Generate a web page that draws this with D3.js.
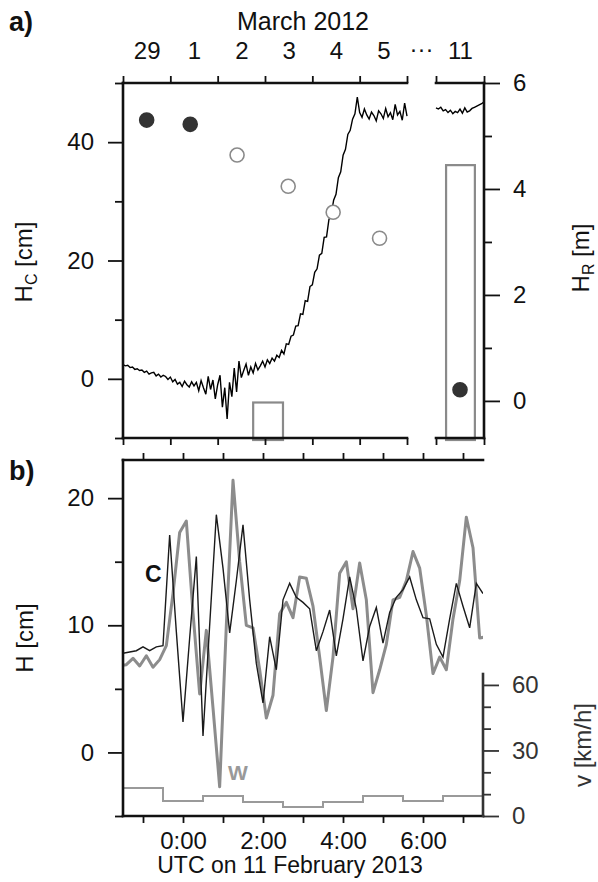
<!DOCTYPE html>
<html><head><meta charset="utf-8">
<script src="https://cdn.jsdelivr.net/npm/d3@7"></script>
<style>body{margin:0;background:#fff}svg{display:block}</style>
</head><body><svg id="c" width="598" height="882"></svg>
<script>
// ---------- Panel a data ----------
// H_C [cm], sampled every 0.05 day from 29 Feb 2012 00:00 to 6 Mar 00:00
const hcStep = 0.05;
const hcValues = [2.4,2.2,2.3,1.9,2.0,1.6,1.7,1.4,1.5,1.1,1.3,0.8,1.0,1.1,0.5,0.8,0.3,0.6,0.4,-0.1,
  0.3,-0.5,-0.1,-0.9,-0.6,-1.3,-0.4,-1.0,-1.4,-0.5,-1.2,-0.6,-2.0,-0.3,-1.5,-2.6,0.4,-1.8,-0.2,-3.4,
  -1.0,0.6,-4.8,-1.5,-6.8,-0.6,-3.0,1.8,-2.2,3.0,0.2,1.4,2.5,0.6,2.0,1.0,2.6,1.5,2.2,3.0,
  2.0,3.2,2.6,3.5,3.0,4.0,3.6,4.8,4.2,5.9,5.8,7.2,7.4,8.9,9.0,11.0,10.9,13.2,13.1,15.6,
  15.9,18.0,18.6,20.9,21.2,23.9,24.0,26.9,27.8,30.2,31.2,34.0,35.0,37.8,38.8,41.3,42.0,43.9,44.8,47.6,
  45.0,44.2,45.6,44.6,43.9,45.1,44.5,43.6,45.3,44.8,44.0,45.7,44.3,45.0,43.8,46.4,44.6,45.2,43.7,46.6,44.4];
// H_C on 11 March, every 0.05 day
const hc11Values = [45.8,45.6,45.9,45.3,45.5,45.0,45.4,44.8,45.2,45.0,45.6,44.9,45.8,45.1,45.3,45.7,45.9,46.1,46.3,46.5,46.8];
// H_R [m] circles
const hrDays   = [0.5, 1.42, 2.41, 3.49, 4.44, 5.42];
const hrValues = [5.3, 5.22, 4.64, 4.05, 3.56, 3.07];
const hrFilled = [true, true, false, false, false, false];
const hr11Days = [0.5];
const hr11Values = [0.21];
// bars (H_R scale)
const barStart = [2.75], barEnd = [3.38], barTop = [-0.03];
const bar11Start = [0.21], bar11End = [0.81], bar11Top = [4.45];
const dayTicks = [0,1,2,3,4,5,6];
const dayLabelPos = [0.5,1.5,2.5,3.5,4.5,5.5];
const dayLabels = ["29","1","2","3","4","5"];

// ---------- Panel b data ----------
// C: every 10 min from 22:30 (-1.5 h); W: every 10 min from 22:25 (-1.583 h)
const cStart = -1.5, wStart = -1.5 - 1/12, hStep = 1/6;
const cValues = [7.8,7.9,8.0,8.3,8.0,8.3,8.4,17.1,9.5,2.4, 9.0,15.4,1.3,10.0,18.7,14.5,9.4,13.5,17.9,12.0,
  7.0,3.9,9.1,6.5,12.0,13.3,12.2,11.8,11.3,8.0, 9.5,11.2,7.6,10.5,13.8,11.3,7.2,9.9,11.4,8.6,
  11.0,12.2,12.8,13.8,12.0,10.6,10.5,8.5,7.5,10.5, 13.3,11.5,9.8,13.3,12.5];
const wValues = [6.8,6.9,7.4,6.8,7.6,6.7,7.3,8.4,12.5,17.3,18.2,11.0,4.6,9.6,3.5,-2.7,10.0,21.4,15.0,10.0,
  9.8,6.5,2.7,4.5,10.9,11.8,10.6,13.8,13.7,11.5,7.5,3.3,7.5,14.1,15.0,11.3,14.9,12.0,4.7,6.5,
  8.5,12.0,12.2,13.5,15.8,14.5,10.8,6.2,7.5,6.5,10.5,13.5,18.5,16.1,9.0,9.1];
const windHours = [-1,0,1,2,3,4,5,6,7];
const windSpeed = [12.8,6.9,9.2,6.4,4.1,6.4,9.2,6.9,9.2];
const hourTicks = [-1,0,1,2,3,4,5,6,7];
const hourLabelTicks = [0,2,4,6];

// ---------- drawing ----------
const FONT = "'Liberation Sans', Arial, Helvetica, sans-serif";
const svg = d3.select("#c").style("font-family", FONT);

const xA1 = d3.scaleLinear().domain([0,6]).range([123,407]);
const xA2 = d3.scaleLinear().domain([0,1]).range([436,484]);
const yC  = d3.scaleLinear().domain([-10,50]).range([438,83]);
const yR  = d3.scaleLinear().domain([-0.7,6]).range([438,83]);

function styleAxis(g, col) {
  g.select(".domain").remove();
  g.selectAll(".tick line").attr("stroke", col || "#111").attr("stroke-width", 1.8);
  g.selectAll(".tick text").attr("fill", col || "#111").style("font-size","24px").style("font-family",FONT);
}

const gA = svg.append("g");
function barsRect(g, xs, starts, ends, tops) {
  g.selectAll(null).data(starts.map((s,i)=>({s, e:ends[i], t:tops[i]}))).join("rect")
    .attr("x", d=>xs(d.s)).attr("width", d=>xs(d.e)-xs(d.s))
    .attr("y", d=>yR(d.t)).attr("height", d=>yR.range()[0]-yR(d.t)+2)
    .attr("fill","none").attr("stroke","#8a8a8a").attr("stroke-width",2.2);
}
barsRect(gA, xA1, barStart, barEnd, barTop);
barsRect(gA, xA2, bar11Start, bar11End, bar11Top);

const lineA1 = d3.line().x((d,i)=>xA1(i*hcStep)).y(d=>yC(d));
const lineA2 = d3.line().x((d,i)=>xA2(i*hcStep)).y(d=>yC(d));
gA.append("path").attr("d", lineA1(hcValues)).attr("fill","none").attr("stroke","#000").attr("stroke-width",1.4);
gA.append("path").attr("d", lineA2(hc11Values)).attr("fill","none").attr("stroke","#000").attr("stroke-width",1.4);

gA.selectAll(null).data(hrDays.map((d,i)=>({d, v:hrValues[i], f:hrFilled[i]}))).join("circle")
  .attr("cx", d=>xA1(d.d)).attr("cy", d=>yR(d.v)).attr("r", 7)
  .attr("fill", d=>d.f ? "#333" : "#fff")
  .attr("stroke", d=>d.f ? "#333" : "#8a8a8a").attr("stroke-width", 1.6);
gA.selectAll(null).data(hr11Days.map((d,i)=>({d, v:hr11Values[i]}))).join("circle")
  .attr("cx", d=>xA2(d.d)).attr("cy", d=>yR(d.v)).attr("r", 7)
  .attr("fill","#333").attr("stroke","#333").attr("stroke-width",1.6);

gA.append("g").attr("transform","translate(123,0)")
  .call(d3.axisLeft(yC).tickValues([0,20,40]).tickSize(15).tickPadding(14).tickSizeOuter(0))
  .call(styleAxis);
gA.append("g").attr("transform","translate(123,0)")
  .call(d3.axisLeft(yC).tickValues([-10,10,30,50]).tickSize(8).tickFormat("").tickSizeOuter(0))
  .call(styleAxis);
gA.append("g").attr("transform","translate(484,0)")
  .call(d3.axisRight(yR).tickValues([0,2,4,6]).tickSize(16).tickPadding(13).tickFormat(d3.format("d")).tickSizeOuter(0))
  .call(styleAxis);
gA.append("g").attr("transform","translate(484,0)")
  .call(d3.axisRight(yR).tickValues([1,3,5]).tickSize(8).tickFormat("").tickSizeOuter(0))
  .call(styleAxis);
[[xA1, dayTicks],[xA2,[0,1]]].forEach(([xs,tv])=>{
  gA.append("g").attr("transform","translate(0,83)")
    .call(d3.axisTop(xs).tickValues(tv).tickSize(7).tickFormat("").tickSizeOuter(0)).call(styleAxis);
  gA.append("g").attr("transform","translate(0,438)")
    .call(d3.axisBottom(xs).tickValues(tv).tickSize(7).tickFormat("").tickSizeOuter(0)).call(styleAxis);
});
gA.append("g").attr("transform","translate(0,83)")
  .call(d3.axisTop(xA1).tickValues(dayLabelPos).tickSize(0).tickPadding(24).tickFormat((d,i)=>dayLabels[i]))
  .call(styleAxis);
gA.append("g").attr("transform","translate(0,83)")
  .call(d3.axisTop(xA2).tickValues([0.5]).tickSize(0).tickPadding(24).tickFormat(()=> "11"))
  .call(styleAxis);
gA.append("text").attr("x", (xA1(6)+xA2(0))/2).attr("y", 57).attr("text-anchor","middle")
  .style("font-size","24px").attr("fill","#111").text("\u00B7\u00B7\u00B7");
const fr = (x1,y1,x2,y2,col)=>svg.append("line").attr("x1",x1).attr("y1",y1).attr("x2",x2).attr("y2",y2)
  .attr("stroke",col||"#111").attr("stroke-width",2.6).attr("stroke-linecap","square");
fr(xA1(0), yC(50), xA1(0), yC(-10));
fr(xA1(0), yC(50), xA1(6), yC(50));
fr(xA1(0), yC(-10), xA1(6), yC(-10));
fr(xA2(0), yC(50), xA2(1), yC(50));
fr(xA2(0), yC(-10), xA2(1), yC(-10));
fr(xA2(1), yC(50), xA2(1), yC(-10));

svg.append("text").attr("x",9).attr("y",31).style("font-size","27px").style("font-weight","bold").attr("fill","#111").text("a)");
svg.append("text").attr("x", 303).attr("y", 30).attr("text-anchor","middle")
  .style("font-size","25px").attr("fill","#111").text("March 2012");
function rotTitle(x, y, parts) {
  const t = svg.append("text").attr("transform",`translate(${x},${y}) rotate(-90)`)
    .attr("text-anchor","middle").style("font-size","24px").attr("fill","#111");
  parts.forEach(p=>{
    const s = t.append("tspan").text(p.t);
    if (p.sub) s.attr("dy", 5).style("font-size","16px");
    if (p.back) s.attr("dy", -5);
  });
  return t;
}
rotTitle(32, 262, [{t:"H"},{t:"C",sub:true},{t:" [cm]",back:true}]);
rotTitle(589, 258, [{t:"H"},{t:"R",sub:true},{t:" [m]",back:true}]);

// ---------- Panel b ----------
const xB = d3.scaleLinear().domain([-1.5,7.5]).range([123,483]);
const yH = d3.scaleLinear().domain([-5,23]).range([816,460]);
const yV = d3.scaleLinear().domain([0,65]).range([816,674]);
svg.append("clipPath").attr("id","clipB").append("rect")
  .attr("x", xB(-1.5)).attr("y", yH(23)).attr("width", xB(7.5)-xB(-1.5)).attr("height", yH(-5)-yH(23));
const gB = svg.append("g");
const gBc = gB.append("g").attr("clip-path","url(#clipB)");

const windPts = [];
windHours.forEach((h,i)=>{ windPts.push([h-0.5, windSpeed[i]]); windPts.push([h+0.5, windSpeed[i]]); });
gBc.append("path").attr("d", d3.line().x(d=>xB(d[0])).y(d=>yV(d[1]))(windPts))
  .attr("fill","none").attr("stroke","#9a9a9a").attr("stroke-width",2);

const lineW = d3.line().x((d,i)=>xB(wStart + i*hStep)).y(d=>yH(d));
const lineC = d3.line().x((d,i)=>xB(cStart + i*hStep)).y(d=>yH(d));
gBc.append("path").attr("d", lineW(wValues)).attr("fill","none").attr("stroke","#8c8c8c").attr("stroke-width",3).attr("stroke-linejoin","round");
gBc.append("path").attr("d", lineC(cValues)).attr("fill","none").attr("stroke","#1a1a1a").attr("stroke-width",1.4);

gB.append("g").attr("transform","translate(123,0)")
  .call(d3.axisLeft(yH).tickValues([0,10,20]).tickSize(15).tickPadding(14).tickSizeOuter(0)).call(styleAxis);
gB.append("g").attr("transform","translate(123,0)")
  .call(d3.axisLeft(yH).tickValues([-5,5,15]).tickSize(8).tickFormat("").tickSizeOuter(0)).call(styleAxis);
gB.append("g").attr("transform","translate(483,0)")
  .call(d3.axisRight(yV).tickValues([0,30,60]).tickSize(16).tickPadding(13).tickSizeOuter(0)).call(g=>styleAxis(g,"#333"));
gB.append("g").attr("transform","translate(483,0)")
  .call(d3.axisRight(yV).tickValues([10,20,40,50]).tickSize(8).tickFormat("").tickSizeOuter(0)).call(g=>styleAxis(g,"#333"));
gB.append("g").attr("transform","translate(0,460)")
  .call(d3.axisTop(xB).tickValues(hourTicks).tickSize(7).tickFormat("").tickSizeOuter(0)).call(styleAxis);
gB.append("g").attr("transform","translate(0,816)")
  .call(d3.axisBottom(xB).tickValues(hourTicks).tickSize(7).tickFormat("").tickSizeOuter(0)).call(styleAxis);
gB.append("g").attr("transform","translate(0,816)")
  .call(d3.axisBottom(xB).tickValues(hourLabelTicks).tickSize(0).tickPadding(16).tickFormat(d=>d+":00")).call(styleAxis);

fr(xB(-1.5), yH(23), xB(-1.5), yH(-5));
fr(xB(-1.5), yH(23), xB(7.5), yH(23));
fr(xB(-1.5), yH(-5), xB(7.5), yH(-5));
fr(xB(7.5), yV(65), xB(7.5), yV(0), "#333");

svg.append("text").attr("x",9).attr("y",480).style("font-size","27px").style("font-weight","bold").attr("fill","#111").text("b)");
rotTitle(33, 638, [{t:"H [cm]"}]);
rotTitle(591, 745, [{t:"v [km/h]"}]).attr("fill","#333");
svg.append("text").attr("x", 290).attr("y", 873).attr("text-anchor","middle")
  .style("font-size","23px").attr("fill","#111").text("UTC on 11 February 2013");
svg.append("text").attr("x",145).attr("y",582).style("font-size","23px").style("font-weight","bold").attr("fill","#111").text("C");
svg.append("text").attr("x",228).attr("y",780).style("font-size","21px").style("font-weight","bold").attr("fill","#999").text("W");
</script></body></html>
